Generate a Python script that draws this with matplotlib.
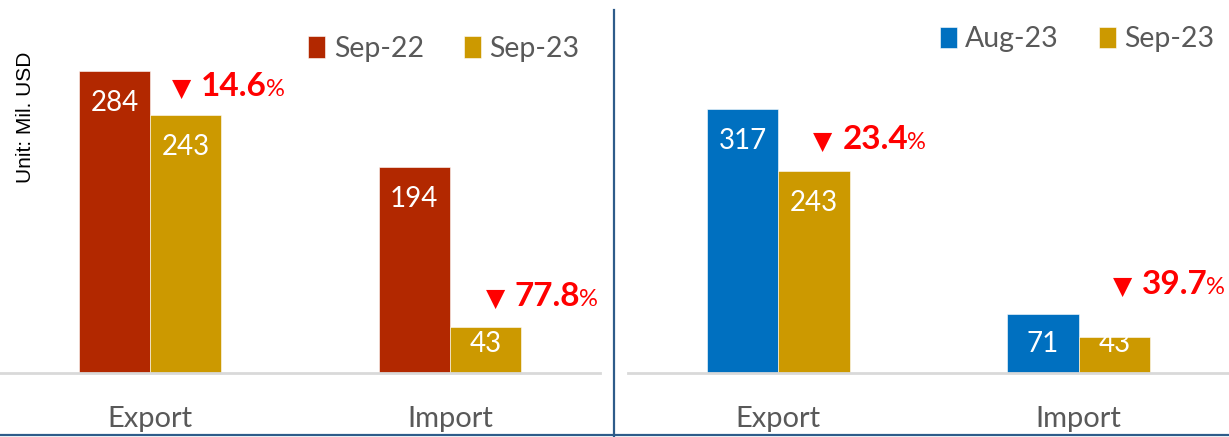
import matplotlib
matplotlib.use("Agg")
import matplotlib.pyplot as plt
from matplotlib.lines import Line2D
from matplotlib.offsetbox import TextArea, HPacker, AnnotationBbox

# ============================================================
# Data
# ============================================================
CATEGORIES = ["Export", "Import"]

LEFT_SERIES = ["Sep-22", "Sep-23"]
LEFT_PREV = [284, 194]
LEFT_CURR = [243, 43]
LEFT_CHANGE = ["14.6", "77.8"]

RIGHT_SERIES = ["Aug-23", "Sep-23"]
RIGHT_PREV = [317, 71]
RIGHT_CURR = [243, 43]
RIGHT_CHANGE = ["23.4", "39.7"]

# ============================================================
# Style
# ============================================================
RED = "#B22800"
GOLD = "#CC9900"
BLUE = "#0070C0"
GRAY_TXT = "#595959"
FRAME = "#2E5C8A"
FONT = ["Lato", "DejaVu Sans"]

plt.rcParams["font.family"] = FONT

W, H = 1229, 437
fig = plt.figure(figsize=(W / 100, H / 100), dpi=100)

BASE_Y = 373  # pixel row of baseline (from top)
BAR_W = 0.2375


def px_axes(x0, x1):
    return [x0 / W, (H - BASE_Y) / H, (x1 - x0) / W, BASE_Y / H]


def draw_panel(ax, prev, curr, series, colors, ymax, changes, ann_pos, legend_anchor):
    xs = range(len(CATEGORIES))
    b1 = ax.bar([x - BAR_W / 2 for x in xs], prev, BAR_W, color=colors[0],
                edgecolor="white", linewidth=0.4, label=series[0])
    b2 = ax.bar([x + BAR_W / 2 for x in xs], curr, BAR_W, color=colors[1],
                edgecolor="white", linewidth=0.4, label=series[1])
    ax.set_xlim(-0.5, 1.5)
    ax.set_ylim(0, ymax)
    ppu = BASE_Y / ymax  # pixels per unit

    for bars in (b1, b2):
        for rect in bars:
            v = rect.get_height()
            dy = min(32, v * ppu - 29)
            ax.annotate(f"{v:.0f}", (rect.get_x() + rect.get_width() / 2, v),
                        xytext=(0, -dy), textcoords="offset pixels",
                        ha="center", va="center", color="white", fontsize=20)

    for txt, (px, py) in zip(changes, ann_pos):
        tri = TextArea("\u25bc", textprops=dict(color="red", fontsize=18,
                                                 family=["DejaVu Sans"]))
        num = TextArea(txt, textprops=dict(color="red", fontsize=24, fontweight="bold"))
        pct = TextArea("%", textprops=dict(color="red", fontsize=17))
        box = HPacker(children=[tri, HPacker(children=[num, pct], sep=-1, align="baseline")],
                      sep=7, align="baseline", pad=0)
        ab = AnnotationBbox(box, (px, py), xycoords="data", box_alignment=(0, 0.5),
                            frameon=False, pad=0, annotation_clip=False)
        ax.add_artist(ab)

    for s in ("top", "right", "left"):
        ax.spines[s].set_visible(False)
    ax.spines["bottom"].set_color("#D9D9D9")
    ax.spines["bottom"].set_linewidth(2)
    ax.set_yticks([])
    ax.set_xticks(list(xs))
    ax.set_xticklabels(CATEGORIES, fontsize=21, color=GRAY_TXT)
    ax.tick_params(axis="x", length=0, pad=24)

    leg = ax.legend(loc="upper right", bbox_to_anchor=legend_anchor, ncol=2,
                    frameon=False, fontsize=20.5, handlelength=0.6, handleheight=0.8,
                    handletextpad=0.3, columnspacing=1.4, borderaxespad=0)
    for t in leg.get_texts():
        t.set_color(GRAY_TXT)
    ax.patch.set_alpha(0)


ax_l = fig.add_axes(px_axes(0, 600))
draw_panel(ax_l, LEFT_PREV, LEFT_CURR, LEFT_SERIES, [RED, GOLD], 351, LEFT_CHANGE,
           [(0.074, 270), (1.12, 72)], (0.985, 0.935))

ax_r = fig.add_axes(px_axes(628, 1229))
draw_panel(ax_r, RIGHT_PREV, RIGHT_CURR, RIGHT_SERIES, [BLUE, GOLD], 448, RIGHT_CHANGE,
           [(0.117, 281), (1.113, 106)], (0.995, 0.96))

fig.text(26 / W, 1 - 117 / H, "Unit: Mil. USD", rotation=90, ha="center", va="center",
         fontsize=15, color="black", family=["Liberation Sans"])

# divider and bottom border
fig.add_artist(Line2D([614 / W, 614 / W], [0, 1 - 10 / H], transform=fig.transFigure,
                      color=FRAME, linewidth=1.6))
fig.add_artist(Line2D([0, 1], [2 / H, 2 / H], transform=fig.transFigure,
                      color=FRAME, linewidth=1.6))

fig.savefig("out.png", dpi=100)
